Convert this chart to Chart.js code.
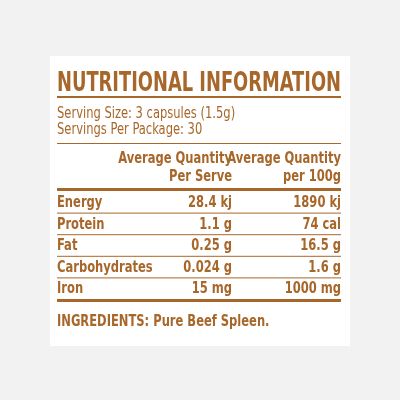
<!DOCTYPE html>
<html>
<head>
<meta charset="utf-8">
<script src="https://cdn.jsdelivr.net/npm/chart.js@4"></script>
<style>
	html, body { margin: 0; padding: 0; background: #f2f2f2; }
	canvas { display: block; }
</style>
</head>
<body>
<canvas id="nutritionChart" width="400" height="400"></canvas>
<script>
// table contents
const title = "NUTRITIONAL INFORMATION";
const servingLines = ["Serving Size: 3 capsules (1.5g)", "Servings Per Package: 30"];
const headerServe = ["Average Quantity", "Per Serve"];
const header100g = ["Average Quantity", "per 100g"];
const nutrients = ["Energy", "Protein", "Fat", "Carbohydrates", "Iron"];
const perServe = ["28.4 kj", "1.1 g", "0.25 g", "0.024 g", "15 mg"];
const per100g = ["1890 kj", "74 cal", "16.5 g", "1.6 g", "1000 mg"];
const ingredients = "INGREDIENTS: Pure Beef Spleen.";

const brown = "#a8672a";
const font = '"Liberation Sans Narrow", "DejaVu Sans Condensed", "Roboto", sans-serif';
const squeeze = 0.8; // no condensed font installed, so squash horizontally

const tablePlugin = {
	id: "nutritionTable",
	beforeDraw(chart) {
		const ctx = chart.ctx;
		ctx.save();
		// background and panel
		ctx.fillStyle = "#f2f2f2";
		ctx.fillRect(0, 0, 400, 400);
		ctx.fillStyle = "#ffffff";
		ctx.fillRect(50, 56, 300, 290);

		const left = 57, right = 341, colServe = 232;
		const hline = (y, w) => {
			ctx.fillStyle = brown;
			ctx.fillRect(left, y, right - left, w);
		};
		const text = (s, x, y, align, f) => {
			ctx.save();
			ctx.font = f;
			ctx.fillStyle = brown;
			ctx.textAlign = align;
			ctx.translate(x, y);
			ctx.scale(squeeze, 1);
			ctx.fillText(s, 0, 0);
			ctx.restore();
		};

		// title
		ctx.font = "bold 26px " + font;
		ctx.fillStyle = brown;
		ctx.textAlign = "left";
		ctx.fillText(title, left, 91, right - left);
		hline(96, 2);

		// serving info
		servingLines.forEach((s, i) => text(s, left, 118 + i * 16, "left", "16px " + font));
		hline(143, 1);

		// headers
		const bold = "bold 16px " + font;
		headerServe.forEach((s, i) => text(s, colServe, 163 + i * 18, "right", bold));
		header100g.forEach((s, i) => text(s, right, 163 + i * 18, "right", bold));
		hline(188, 3);

		// nutrient rows
		const rowTop = 191, rowH = 21.6;
		nutrients.forEach((n, i) => {
			const yb = rowTop + i * rowH + 16;
			text(n, left, yb, "left", bold);
			text(perServe[i], colServe, yb, "right", bold);
			text(per100g[i], right, yb, "right", bold);
			if (i < nutrients.length - 1) hline(rowTop + (i + 1) * rowH, 1);
		});
		hline(rowTop + nutrients.length * rowH, 3);

		// ingredients
		text(ingredients, left, 326, "left", bold);
		ctx.restore();
	},
};

new Chart(document.getElementById("nutritionChart").getContext("2d"), {
	type: "bar",
	data: { labels: nutrients, datasets: [{ data: [], backgroundColor: "transparent" }] },
	options: {
		responsive: false,
		animation: false,
		plugins: { legend: { display: false }, tooltip: { enabled: false } },
		scales: { x: { display: false }, y: { display: false } },
	},
	plugins: [tablePlugin],
});
</script>
</body>
</html>
